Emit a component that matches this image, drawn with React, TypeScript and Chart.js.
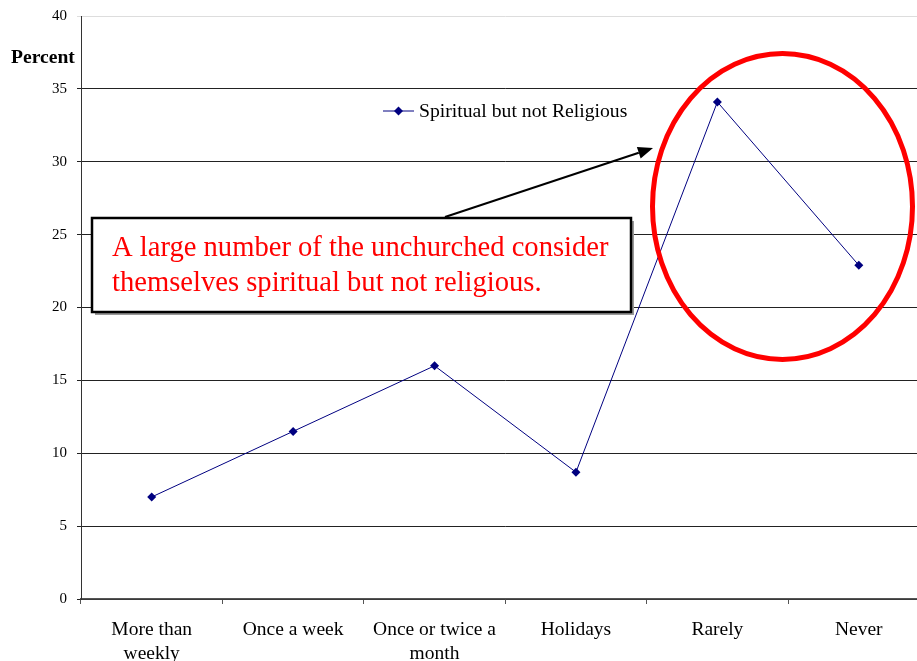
import React, { useEffect, useRef } from 'react';
import { Chart, registerables } from 'chart.js';
Chart.register(...registerables);

const categories: (string | string[])[] = [
  ['More than', 'weekly'],
  'Once a week',
  ['Once or twice a', 'month'],
  'Holidays',
  'Rarely',
  'Never',
];
const seriesLabel = 'Spiritual but not Religious';
const values = [7.0, 11.5, 16.0, 8.7, 34.1, 22.9];
const yMin = 0;
const yMax = 40;
const yStep = 5;
const axisTitle = 'Percent';
const calloutLines = [
  'A large number of the unchurched consider',
  'themselves spiritual but not religious.',
];

const FONT = '"Liberation Serif", "Times New Roman", serif';
const NAVY = '#000080';

const overlayPlugin = {
  id: 'overlay',
  afterDraw(chart: any) {
    const ctx = chart.ctx as CanvasRenderingContext2D;
    ctx.save();
    // Axis title "Percent"
    ctx.font = `bold 19.6px ${FONT}`;
    ctx.fillStyle = '#000';
    ctx.textAlign = 'left';
    ctx.textBaseline = 'middle';
    ctx.fillText(axisTitle, 11, 58);

    // Legend
    const lx = 383, ly = 111;
    ctx.strokeStyle = NAVY;
    ctx.lineWidth = 1;
    ctx.beginPath();
    ctx.moveTo(lx, ly);
    ctx.lineTo(lx + 31, ly);
    ctx.stroke();
    ctx.fillStyle = NAVY;
    ctx.beginPath();
    ctx.moveTo(lx + 15.5, ly - 4.5);
    ctx.lineTo(lx + 20, ly);
    ctx.lineTo(lx + 15.5, ly + 4.5);
    ctx.lineTo(lx + 11, ly);
    ctx.closePath();
    ctx.fill();
    ctx.fillStyle = '#000';
    ctx.font = `19.7px ${FONT}`;
    ctx.fillText(chart.data.datasets[0].label, lx + 36, ly + 1);

    // Arrow
    const ax1 = 445, ay1 = 217, ax2 = 653, ay2 = 148;
    ctx.strokeStyle = '#000';
    ctx.lineWidth = 2;
    const ang = Math.atan2(ay2 - ay1, ax2 - ax1);
    const hl = 15, hw = 6;
    const bx = ax2 - hl * Math.cos(ang);
    const by = ay2 - hl * Math.sin(ang);
    ctx.beginPath();
    ctx.moveTo(ax1, ay1);
    ctx.lineTo(bx, by);
    ctx.stroke();
    ctx.fillStyle = '#000';
    ctx.beginPath();
    ctx.moveTo(ax2, ay2);
    ctx.lineTo(bx + hw * Math.sin(ang), by - hw * Math.cos(ang));
    ctx.lineTo(bx - hw * Math.sin(ang), by + hw * Math.cos(ang));
    ctx.closePath();
    ctx.fill();

    // Callout box
    const bxl = 92, byt = 218, bw = 539, bh = 94;
    ctx.fillStyle = '#999';
    ctx.fillRect(bxl + 3, byt + 3, bw, bh);
    ctx.fillStyle = '#fff';
    ctx.fillRect(bxl, byt, bw, bh);
    ctx.strokeStyle = '#000';
    ctx.lineWidth = 2.5;
    ctx.strokeRect(bxl, byt, bw, bh);
    ctx.fillStyle = '#ff0000';
    ctx.font = `28.6px ${FONT}`;
    ctx.textAlign = 'left';
    ctx.textBaseline = 'middle';
    ctx.fillText(calloutLines[0], 112, 248);
    ctx.fillText(calloutLines[1], 112, 283);

    // Red ellipse
    ctx.strokeStyle = '#ff0000';
    ctx.lineWidth = 5;
    ctx.beginPath();
    ctx.ellipse(782.5, 206.5, 130, 153, 0, 0, Math.PI * 2);
    ctx.stroke();
    ctx.restore();
  },
};

export default function App() {
  const ref = useRef<HTMLCanvasElement>(null);
  useEffect(() => {
    if (!ref.current) return;
    const chart = new Chart(ref.current, {
      type: 'line',
      data: {
        labels: categories as any,
        datasets: [
          {
            label: seriesLabel,
            data: values,
            borderColor: NAVY,
            backgroundColor: NAVY,
            borderWidth: 1,
            pointStyle: 'rectRot',
            pointRadius: 4.5,
            pointBorderWidth: 0,
            tension: 0,
          },
        ],
      },
      options: {
        animation: false,
        responsive: false,
        devicePixelRatio: 1,
        layout: { padding: { left: 0, right: 1, top: 16, bottom: 0 } },
        plugins: { legend: { display: false }, tooltip: { enabled: false } },
        scales: {
          x: {
            type: 'category',
            offset: true,
            afterFit(scale: any) {
              scale.height = 62;
              scale.paddingLeft = 0;
              scale.paddingRight = 0;
            },
            grid: {
              offset: true,
              drawOnChartArea: false,
              drawTicks: true,
              tickLength: 5,
              color: '#555',
            },
            border: { display: true, color: '#555', width: 1.5 },
            ticks: {
              color: '#000',
              padding: 14,
              maxRotation: 0,
              autoSkip: false,
              font: { family: FONT, size: 19.5, lineHeight: 1.24 },
            },
          },
          y: {
            min: yMin,
            max: yMax,
            afterFit(scale: any) {
              scale.width = 81;
              scale.paddingTop = 0;
              scale.paddingBottom = 0;
            },
            grid: {
              color: (c: any) => (c.tick && c.tick.value === yMax ? '#dddddd' : '#222'),
              drawTicks: true,
              tickLength: 4,
              lineWidth: 1,
            },
            border: { display: true, color: '#333', width: 1 },
            ticks: {
              stepSize: yStep,
              color: '#000',
              padding: 10,
              font: { family: FONT, size: 15 },
            },
          },
        },
      },
      plugins: [overlayPlugin],
    });
    return () => chart.destroy();
  }, []);
  return (
    <div style={{ position: 'absolute', left: 0, top: 0, width: 917, height: 661, overflow: 'hidden', background: '#fff' }}>
      <canvas ref={ref} width={934} height={661} style={{ width: 934, height: 661, display: 'block' }} />
    </div>
  );
}
